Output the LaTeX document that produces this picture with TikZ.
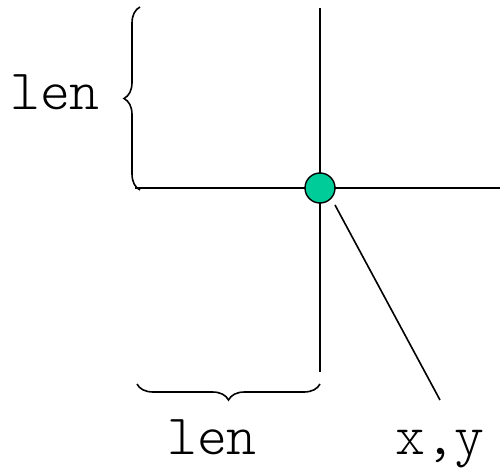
\documentclass[tikz,border=0pt]{standalone}
\usepackage{fontspec}
\setmonofont{Latin Modern Mono Light}
\usetikzlibrary{decorations.pathreplacing}
\begin{document}
\begin{tikzpicture}[x=1pt,y=-1pt,
  ln/.style={line width=1.6pt,black},
  brc/.style={line width=1.6pt,decorate,decoration={brace,amplitude=16pt}},
  lbl/.style={font=\ttfamily\fontsize{57}{57}\selectfont,anchor=base,inner sep=0pt},
  pt/.style={circle,draw=black,line width=1.4pt,fill={rgb,255:red,0;green,204;blue,153},minimum size=30pt,inner sep=0pt}]
\useasboundingbox (0,0) rectangle (501,468);
\coordinate (vtop) at (320,8);
\coordinate (vbot) at (320,372);
\coordinate (hl) at (135,188);
\coordinate (hr) at (500,188);
\coordinate (dstart) at (335,205);
\coordinate (dend) at (440,400);
\coordinate (lb1) at (140,190);
\coordinate (lb2) at (140,7);
\coordinate (bb1) at (320,384);
\coordinate (bb2) at (137,384);
\draw[ln] (vtop) -- (vbot);
\draw[ln] (hl) -- (hr);
\node[pt] (p) at (320,188) {};
\draw[ln] (dstart) -- (dend);
\draw[brc] (lb1) -- (lb2);
\draw[brc] (bb1) -- (bb2);
\node[lbl] (l1) at (55,110) {len};
\node[lbl] (l2) at (212,454) {len};
\node[lbl] (xy) at (440,454) {x,y};
\end{tikzpicture}
\end{document}
